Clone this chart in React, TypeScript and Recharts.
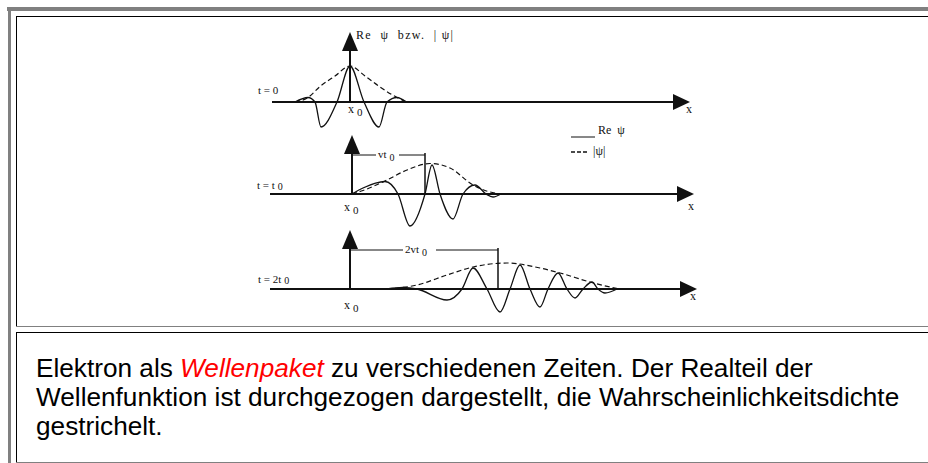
import React from 'react';
import { LineChart, Line, XAxis, YAxis, ReferenceLine, ReferenceDot, Legend } from 'recharts';

type Pt = { x: number; y: number };

// x measured from x0, amplitude measured upward from the x axis
// t = 0
const re0: Pt[] = [
  { x: -5.5, y: 0 }, { x: -4.2, y: 0.45 }, { x: -3.5, y: 0 }, { x: -2.9, y: -2.5 },
  { x: -1.3, y: 0 }, { x: 0, y: 3.6 }, { x: 1.4, y: 0 }, { x: 2.9, y: -2.5 },
  { x: 3.7, y: 0 }, { x: 4.7, y: 0.45 }, { x: 5.6, y: 0 },
];
const env0: Pt[] = [
  { x: -5.5, y: 0 }, { x: -4.2, y: 0.45 }, { x: -3, y: 1.55 }, { x: -1.5, y: 2.6 },
  { x: 0, y: 3.6 }, { x: 1.5, y: 2.6 }, { x: 3, y: 1.5 }, { x: 4.7, y: 0.45 }, { x: 5.7, y: 0 },
];

// t = t0
const re1: Pt[] = [
  { x: 0, y: 0 }, { x: 1.1, y: 0.6 }, { x: 3.3, y: 1.25 }, { x: 4.6, y: 0 }, { x: 5.8, y: -3.2 },
  { x: 7.3, y: 0 }, { x: 8.0, y: 2.9 }, { x: 8.8, y: 0 }, { x: 10.1, y: -2.5 }, { x: 11.1, y: 0 },
  { x: 12.3, y: 0.9 }, { x: 13.4, y: 0 }, { x: 14.1, y: -0.3 }, { x: 14.9, y: 0 },
];
const env1: Pt[] = [
  { x: 0, y: 0 }, { x: 1.1, y: 0.35 }, { x: 3.3, y: 1.3 }, { x: 5.5, y: 2.4 }, { x: 7.8, y: 3.05 },
  { x: 9.8, y: 2.6 }, { x: 12.1, y: 0.9 }, { x: 13.8, y: 0.2 }, { x: 15, y: 0 },
];

// t = 2t0
const re2: Pt[] = [
  { x: 3.7, y: 0 }, { x: 5.3, y: 0.15 }, { x: 6.7, y: 0 }, { x: 9.7, y: -1.1 }, { x: 11.2, y: 0 },
  { x: 12.3, y: 2.1 }, { x: 13.7, y: 0 }, { x: 15, y: -2.3 }, { x: 16, y: 0 }, { x: 17, y: 2.4 },
  { x: 18, y: 0 }, { x: 19, y: -1.8 }, { x: 19.8, y: 0 }, { x: 20.8, y: 1.6 }, { x: 21.7, y: 0 },
  { x: 22.5, y: -0.9 }, { x: 23.3, y: 0 }, { x: 24.2, y: 0.7 }, { x: 24.8, y: 0 },
  { x: 25.5, y: -0.4 }, { x: 26.7, y: 0 },
];
const env2: Pt[] = [
  { x: 3.7, y: 0 }, { x: 6.7, y: 0.4 }, { x: 9.7, y: 1.4 }, { x: 12.3, y: 2.2 }, { x: 15.7, y: 2.6 },
  { x: 19, y: 2.1 }, { x: 21, y: 1.6 }, { x: 24, y: 0.7 }, { x: 26, y: 0.2 }, { x: 27, y: 0 },
];

// displacement of the packet centre: vt0 and 2vt0
const shifts = [0, 7.3, 14.8];
const timeLabels = ['0', 't', '2t'];
const seriesNames = ['Re  \u03c8', '|\u03c8|'];
const captionLines = [
  ['Elektron als  ', 'Wellenpaket', ' zu verschiedenen Zeiten. Der Realteil der'],
  ['Wellenfunktion ist durchgezogen dargestellt, die Wahrscheinlichkeitsdichte'],
  ['gestrichelt.'],
];

const SERIF = '"Liberation Serif", "Times New Roman", serif';
const SANS = '"Liberation Sans", Arial, sans-serif';
const INK = '#111';

const upHead = (p: any) => (
  <polygon points={`${p.cx},${p.cy} ${p.cx - 8},${p.cy + 19} ${p.cx + 8},${p.cy + 19}`} fill={INK} />
);
const rightHead = (p: any) => (
  <polygon points={`${p.cx},${p.cy} ${p.cx - 17},${p.cy - 8} ${p.cx - 17},${p.cy + 8}`} fill={INK} />
);

const txt = (main: string, sub?: string, size = 11, subDy = 3) => (p: any) => (
  <text x={p.cx} y={p.cy} fontFamily={SERIF} fontSize={size} fill={INK}>
    {main}
    {sub !== undefined && <tspan dx={3} dy={subDy} fontSize={size - 1}>{sub}</tspan>}
  </text>
);

type RowProps = {
  re: Pt[]; env: Pt[]; left: number; top: number; yDomain: [number, number];
  axisFrom: number; axisTo: number; arrowTip: number; tLabel: string; tLabelAt: [number, number];
  x0At: [number, number]; xAt: [number, number]; shift: number; bracketY: number;
  bracketText?: string; bracketGap?: [number, number]; extra?: React.ReactNode; legend?: boolean;
};

const LegendBox = () => (
  <div style={{ fontFamily: SERIF, fontSize: 12, color: INK, lineHeight: '17px' }}>
    <div style={{ display: 'flex', alignItems: 'flex-end', height: 17 }}>
      <svg width={26} height={14}><line x1={0} x2={24} y1={12} y2={12} stroke={INK} strokeWidth={1} /></svg>
      <span style={{ marginLeft: 1, whiteSpace: 'pre' }}>{seriesNames[0]}</span>
    </div>
    <div style={{ display: 'flex', alignItems: 'center', height: 17, marginTop: 4 }}>
      <svg width={20} height={14}><line x1={0} x2={18} y1={7} y2={7} stroke={INK} strokeWidth={1.3} strokeDasharray="4 2" /></svg>
      <span style={{ marginLeft: 2 }}>{seriesNames[1]}</span>
    </div>
  </div>
);

const Row = (r: RowProps) => {
  const h = (r.yDomain[1] - r.yDomain[0]) * 10;
  return (
    <div style={{ position: 'absolute', left: r.left, top: r.top }}>
      <LineChart width={460} height={h} margin={{ top: 0, right: 0, bottom: 0, left: 0 }} style={{ overflow: 'visible' }}>
        <XAxis type="number" dataKey="x" domain={[-10, 36]} hide allowDataOverflow />
        <YAxis type="number" dataKey="y" domain={r.yDomain} hide allowDataOverflow />
        {/* x axis with arrow */}
        <ReferenceLine segment={[{ x: r.axisFrom, y: 0 }, { x: r.axisTo - 1, y: 0 }]} stroke={INK} strokeWidth={2} ifOverflow="visible" />
        <ReferenceDot x={r.axisTo} y={0} r={1} shape={rightHead} ifOverflow="visible" />
        {/* vertical axis at x0 */}
        <ReferenceLine segment={[{ x: 0, y: 0 }, { x: 0, y: r.arrowTip - 1 }]} stroke={INK} strokeWidth={2} ifOverflow="visible" />
        <ReferenceDot x={0} y={r.arrowTip} r={1} shape={upHead} ifOverflow="visible" />
        {r.shift > 0 && r.bracketGap && (
          <>
            <ReferenceLine segment={[{ x: 0, y: r.bracketY }, { x: r.bracketGap[0], y: r.bracketY }]} stroke={INK} strokeWidth={1} ifOverflow="visible" />
            <ReferenceLine segment={[{ x: r.bracketGap[1], y: r.bracketY }, { x: r.shift, y: r.bracketY }]} stroke={INK} strokeWidth={1} ifOverflow="visible" />
            <ReferenceLine segment={[{ x: r.shift, y: r.bracketY + 0.2 }, { x: r.shift, y: 0 }]} stroke={INK} strokeWidth={1.5} ifOverflow="visible" />
            <ReferenceDot x={r.bracketGap[0] + 0.2} y={r.bracketY - 0.3} r={1} shape={txt(r.bracketText || '', '0')} ifOverflow="visible" />
          </>
        )}
        <Line data={r.env} dataKey="y" name={seriesNames[1]} type="monotone" stroke={INK} strokeWidth={1.2} strokeDasharray="5 3" dot={false} isAnimationActive={false} />
        <Line data={r.re} dataKey="y" name={seriesNames[0]} type="monotone" stroke={INK} strokeWidth={1.3} dot={false} isAnimationActive={false} />
        <ReferenceDot x={r.tLabelAt[0]} y={r.tLabelAt[1]} r={1} shape={txt('t = ' + r.tLabel, r.tLabel === '0' ? undefined : '0', 11, 1)} ifOverflow="visible" />
        <ReferenceDot x={r.x0At[0]} y={r.x0At[1]} r={1} shape={txt('x', '0', 12)} ifOverflow="visible" />
        <ReferenceDot x={r.xAt[0]} y={r.xAt[1]} r={1} shape={txt('x', undefined, 12)} ifOverflow="visible" />
        {r.extra}
        {r.legend && (
          <Legend
            layout="horizontal"
            verticalAlign="middle"
            align="center"
            content={() => <LegendBox />}
            wrapperStyle={{ position: 'absolute', left: 319, top: -2, width: 'auto', height: 'auto' }}
          />
        )}
      </LineChart>
    </div>
  );
};

const Frame = () => (
  <>
    <div style={{ position: 'absolute', left: 7, top: 7, width: 921, height: 4, background: '#808080' }} />
    <div style={{ position: 'absolute', left: 8, top: 7, width: 3, height: 456, background: '#808080' }} />
    <div style={{ position: 'absolute', left: 16, top: 16, width: 912, height: 1, background: '#000' }} />
    <div style={{ position: 'absolute', left: 16, top: 16, width: 1, height: 310, background: '#000' }} />
    <div style={{ position: 'absolute', left: 16, top: 326, width: 912, height: 1, background: '#808080' }} />
    <div style={{ position: 'absolute', left: 16, top: 332, width: 912, height: 1, background: '#000' }} />
    <div style={{ position: 'absolute', left: 16, top: 332, width: 1, height: 130, background: '#000' }} />
    <div style={{ position: 'absolute', left: 16, top: 462, width: 912, height: 1, background: '#808080' }} />
  </>
);

const Caption = () => (
  <svg width={928} height={463} style={{ position: 'absolute', left: 0, top: 0 }}>
    <g fontFamily={SANS} fontSize={26.2} fill="#000" style={{ whiteSpace: 'pre' }}>
      <text x={36} y={377}>
        {captionLines[0][0]}
        <tspan fill="#ff0000" fontStyle="italic">{captionLines[0][1]}</tspan>
        {captionLines[0][2]}
      </text>
      <text x={36} y={406}>{captionLines[1][0]}</text>
      <text x={36} y={435}>{captionLines[2][0]}</text>
    </g>
  </svg>
);

export default function App() {
  return (
    <div style={{ position: 'fixed', left: 0, top: 0, width: 928, height: 463, background: '#fff', overflow: 'hidden' }}>
      <Frame />
      <Caption />
      <Row
        re={re0} env={env0} left={250} top={22} yDomain={[-3, 8]}
        axisFrom={-7.8} axisTo={34.0} arrowTip={7.0} tLabel={timeLabels[0]} tLabelAt={[-9.2, 0.8]}
        x0At={[-0.2, -1.1]} xAt={[33.6, -1.1]} shift={shifts[0]} bracketY={0}
        extra={
          <ReferenceDot x={0.6} y={6.3} r={1} ifOverflow="visible"
            shape={(p: any) => (
              <text x={p.cx} y={p.cy} fontFamily={SERIF} fontSize={12} fill={INK} textLength={97} style={{ whiteSpace: 'pre' }}>
                {'Re  \u03c8  bzw.  | \u03c8|'}
              </text>
            )} />
        }
      />
      <Row
        re={re1} env={env1} left={252} top={124} yDomain={[-4, 7]}
        axisFrom={-8.2} axisTo={34.2} arrowTip={5.9} tLabel={timeLabels[1]} tLabelAt={[-9.5, 0.5]}
        x0At={[-0.8, -1.7]} xAt={[33.6, -1.6]} shift={shifts[1]} bracketY={3.9}
        bracketText="vt" bracketGap={[2.4, 4.7]} legend
      />
      <Row
        re={re2} env={env2} left={250} top={219} yDomain={[-4, 7]}
        axisFrom={-8.0} axisTo={34.7} arrowTip={5.9} tLabel={timeLabels[2]} tLabelAt={[-9.2, 0.6]}
        x0At={[-0.6, -2.0]} xAt={[34.0, -1.1]} shift={shifts[2]} bracketY={3.9}
        bracketText="2vt" bracketGap={[5.3, 8.6]}
      />
    </div>
  );
}
